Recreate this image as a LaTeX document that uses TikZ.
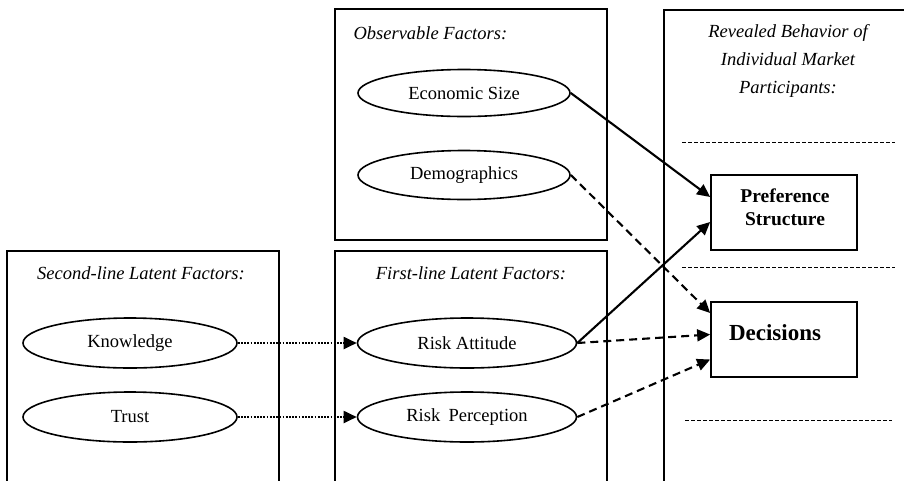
\documentclass[tikz,border=0pt]{standalone}
\usepackage{fontspec}
\setmainfont{Liberation Serif}
\usetikzlibrary{arrows.meta,shapes.geometric}
\begin{document}
\begin{tikzpicture}[x=1pt,y=-1pt,
 frame/.style={draw, line width=1.6pt},
 oval/.style={ellipse, draw, line width=1.6pt, minimum width=214pt, minimum height=50pt, inner sep=0pt, font=\fontsize{18.5}{22}\selectfont},
 title/.style={font=\fontsize{18.5}{28}\selectfont\itshape, align=center},
 outbox/.style={draw, line width=1.7pt, minimum width=146pt, minimum height=75pt, inner sep=0pt},
 boldlbl/.style={font=\fontsize{19.5}{23}\selectfont\bfseries, align=center},
 sepline/.style={dash pattern=on 4pt off 2pt, line width=0.7pt},
 tipstyle/.style={-{Triangle[length=13pt,width=12pt]}},
 solidarrow/.style={tipstyle, line width=2.1pt},
 dasharrow/.style={tipstyle, line width=2.1pt, dash pattern=on 8pt off 5pt},
 dotarrow/.style={tipstyle, line width=1.9pt, dash pattern=on 1.7pt off 1.5pt},
]
\fill[white] (0,0) rectangle (904,480);
\clip (0,0) rectangle (904,480);

% frames
\draw[frame] (335,9) rectangle (607,240);
\draw[frame] (664,10) rectangle (930,500);
\draw[frame] (7,251) rectangle (279,500);
\draw[frame] (335,251) rectangle (607,500);

% titles
\node[title, anchor=west] (obstitle) at (350,33) {Observable Factors:};
\node[title] (revtitle) at (788,61) {Revealed Behavior of\\Individual Market\\Participants:};
\node[title] (sectitle) at (141,273) {Second-line Latent Factors:};
\node[title] (firsttitle) at (471,273) {First-line Latent Factors:};

% separators
\draw[sepline] (682,142) -- (895,142);
\draw[sepline] (682,267) -- (895,267);
\draw[sepline] (685,420) -- (892,420);

% ellipses
\node[oval, minimum width=212pt, minimum height=47pt] (econ) at (464,93) {Economic Size};
\node[oval, minimum width=212pt, minimum height=49pt] (demo) at (464,175) {Demographics};
\node[oval] (know) at (130,343) {Knowledge};
\node[oval] (trust) at (130,417) {Trust};
\node[oval, minimum width=219pt] (ratt) at (467,343) {Risk Attitude};
\node[oval, minimum width=219pt] (rper) at (467,417) {Risk\hspace{0.45em}Perception};

% outcome boxes
\node[outbox] (pref) at (784,212.5) {};
\node[boldlbl] (preflbl) at (785,207) {Preference\\Structure};
\node[outbox] (dec) at (784,339.5) {};
\node[boldlbl, font=\fontsize{23}{26}\selectfont\bfseries] (declbl) at (775,333) {Decisions};

% connectors
\draw[solidarrow] (econ.east) -- ([yshift=15.5pt]pref.west);
\draw[solidarrow] (ratt.east) -- ([yshift=-9.5pt]pref.west);
\draw[dasharrow] (demo.east) -- ([yshift=26.5pt]dec.west);
\draw[dasharrow] (ratt.east) -- ([yshift=5pt]dec.west);
\draw[dasharrow] (rper.east) -- ([yshift=-20pt]dec.west);
\draw[dotarrow] (know.east) -- (ratt.west);
\draw[dotarrow] (trust.east) -- (rper.west);
\end{tikzpicture}
\end{document}
